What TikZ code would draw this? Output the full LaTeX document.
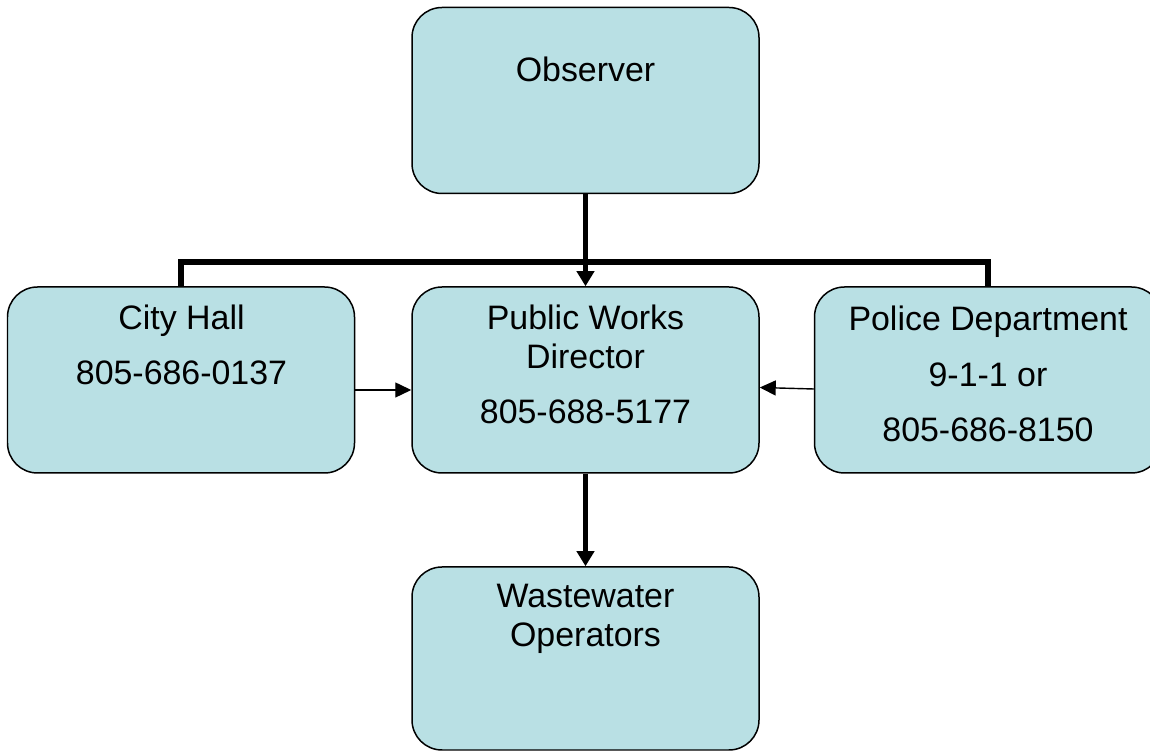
\documentclass[tikz,border=0pt]{standalone}
\usepackage{fontspec}
\setmainfont{Liberation Sans}
\usetikzlibrary{arrows.meta}
\definecolor{boxfill}{RGB}{185,224,228}

\begin{document}
\begin{tikzpicture}[scale=1,
  box/.style={draw=black, line width=0.85pt, fill=boxfill, rounded corners=0.6cm,
    minimum width=6.94cm, minimum height=3.72cm, inner sep=0pt},
  txt/.style={anchor=base, align=center, inner sep=0pt,
    font=\fontsize{19.3}{22.2}\selectfont},
  bus/.style={line width=3.4pt},
  bigarrow/.style={line width=3.4pt, -{Triangle[width=0.34cm,length=0.3cm]}},
  thinarrow/.style={line width=0.8pt, -{Triangle[width=0.3cm,length=0.32cm]}}]
\useasboundingbox (0,0) rectangle (23,15.04);
\newcommand{\gap}{9.1pt}

% boxes
\node [box] (obs) at (11.71,13.03) {};
\node [box] (pwd) at (11.71,7.44) {};
\node [box] (city) at (3.62,7.44) {};
\node [box] (pol) at (19.76,7.44) {};
\node [box, minimum height=3.66cm] (ww) at (11.71,1.87) {};

% texts (placed by the baseline of their last line)
\node [txt] (obstxt) at (11.71,13.40) {Observer};
\node [txt] (citytxt) at (3.63,7.34) {City Hall\\[\gap]805-686-0137};
\node [txt] (pwdtxt) at (11.71,6.56) {Public Works\\Director\\[\gap]805-688-5177};
\node [txt] (poltxt) at (19.76,6.20) {Police Department\\[9.6pt]9-1-1 or\\[9.6pt]805-686-8150};
\node [txt] (wwtxt) at (11.71,2.10) {Wastewater\\Operators};

% connectors
\draw [bus] (city.north) -- ++(0,0.48) -| (pol.north);
\draw [bigarrow] (obs) -- (pwd);
\draw [bigarrow] (pwd) -- (ww);
\draw [thinarrow] ([yshift=-0.2cm]city.east) -- ([yshift=-0.2cm]pwd.west);
\draw [thinarrow] ([yshift=-0.18cm]pol.west) -- ([yshift=-0.15cm]pwd.east);
\end{tikzpicture}
\end{document}
